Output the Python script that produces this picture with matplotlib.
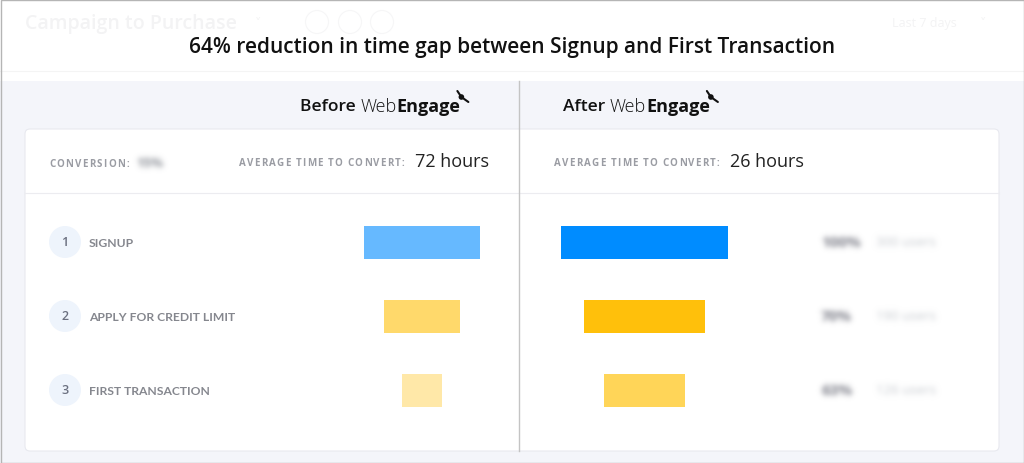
import matplotlib
matplotlib.use("Agg")
import matplotlib.pyplot as plt
import numpy as np
from matplotlib.patches import Rectangle, FancyBboxPatch, Circle

plt.rcParams['font.family'] = ['Open Sans', 'DejaVu Sans']

# data
title = "64% reduction in time gap between Signup and First Transaction"
steps = ["SIGNUP", "APPLY FOR CREDIT LIMIT", "FIRST TRANSACTION"]
before_pct = [100, 66, 34]
after_pct = [100, 72, 48]
before_hours = "72 hours"
after_hours = "26 hours"
conversion = "15%"
after_share = ["100%", "70%", "63%"]
after_users = ["300 users", "190 users", "126 users"]

before_colors = ["#66b9ff", "#ffd96b", "#ffe8a8"]
after_colors = ["#008cff", "#ffc00b", "#ffd558"]


def blur(im, dpi, sigma=2.8):
    # gaussian blur of the alpha, flat colour
    p = int(3 * sigma)
    src = np.pad(im, [(2 * p, 2 * p), (2 * p, 2 * p), (0, 0)], "constant")
    k = np.exp(-0.5 * (np.arange(-p, p + 1) / sigma) ** 2)
    k /= k.sum()
    h2 = src.shape[0] - 2 * p
    w2 = src.shape[1] - 2 * p
    tmp = sum(w * src[:, i:i + w2] for i, w in enumerate(k))
    out = sum(w * tmp[i:i + h2, :] for i, w in enumerate(k))
    mask = im[..., 3] > 0.5
    rgb = im[..., :3][mask].mean(axis=0) if mask.any() else np.array([0.6, 0.6, 0.6])
    out[..., :3] = rgb
    out[..., 3] = np.clip(out[..., 3] * 1.3, 0, 1)
    return out, -p, -p


fig = plt.figure(figsize=(10.24, 4.64), dpi=100)
ax = fig.add_axes([0, 0, 1, 1])
ax.set_xlim(0, 1024)
ax.set_ylim(464, 0)
ax.axis("off")
renderer = fig.canvas.get_renderer()


def spaced(x, y, s, gap, **kw):
    # text with letter spacing, one glyph at a time
    for ch in s:
        t = ax.text(x, y, ch, va="center", **kw)
        bb = t.get_window_extent(renderer)
        x = bb.x1 + gap if ch != " " else x + bb.width + gap
    return x


# backgrounds
ax.add_patch(Rectangle((0, 0), 1024, 464, fc="#f4f5fa", ec="none", zorder=0))
ax.add_patch(Rectangle((0, 0), 1024, 82, fc="white", ec="none", zorder=0))
ax.plot([0, 1024], [72, 72], color="#f4f4f4", lw=0.8, zorder=1)

# faded header of the underlying dashboard
faint = "#f3f3f4"
ax.text(25, 24, "Campaign to Purchase", fontsize=14, color=faint,
        fontweight="semibold", va="center")
ax.text(255, 24, "\u02c5", fontsize=9, color=faint, va="center")
for cx in [317, 350, 382]:
    ax.add_patch(Circle((cx, 23), 11.5, fc="none", ec="#f6f6f7", lw=0.8))
ax.text(892, 24, "Last 7 days", fontsize=9, color=faint, va="center")
ax.text(980, 24, "\u02c5", fontsize=9, color=faint, va="center")

ax.text(512, 47, title, fontsize=15, fontweight="semibold", color="#111111",
        ha="center", va="center")

# card
ax.add_patch(FancyBboxPatch((25, 130), 974, 322, boxstyle="round,pad=0,rounding_size=5",
                            fc="white", ec="#e8e9ef", lw=0.8, zorder=1))
ax.plot([25, 999], [194, 194], color="#ececf0", lw=0.8, zorder=2)
ax.plot([519, 519], [82, 452], color="#c4c4c4", lw=1, zorder=5)


def brand(x, y, word):
    t = ax.text(x, y, word + " ", fontsize=12.5, fontweight="semibold", color="#111111",
                va="center")
    x2 = t.get_window_extent(renderer).x1
    t2 = ax.text(x2, y, "Web", fontsize=13, fontweight="light", color="#111111",
                 va="center")
    x3 = t2.get_window_extent(renderer).x1
    t3 = ax.text(x3, y, "Engage", fontsize=13, fontweight="bold", color="#111111",
                 va="center")
    x4 = t3.get_window_extent(renderer).x1
    # small bird mark of the logo
    ax.add_patch(Circle((x4 + 1, y - 9), 2.8, fc="#111111", ec="none", zorder=4))
    ax.plot([x4 - 3, x4 + 1], [y - 15, y - 9], color="#111111",
            lw=1.5, solid_capstyle="round", zorder=4)
    ax.plot([x4 + 1, x4 + 8], [y - 9, y - 4], color="#111111",
            lw=1.5, solid_capstyle="round", zorder=4)


brand(300, 107, "Before")
brand(563, 107, "After")

lab = dict(fontsize=7, fontweight="bold", color="#9a9ca3")
spaced(49, 165, "CONVERSION:", 1.3, **lab)
t = ax.text(136, 164, conversion, fontsize=9.5, fontweight="bold", color="#a4a6ad",
            va="center")
t.set_agg_filter(blur)
spaced(239, 164, "AVERAGE TIME TO CONVERT:", 1.2, **lab)
ax.text(415, 162, before_hours, fontsize=13, color="#222222", va="center")
spaced(554, 164, "AVERAGE TIME TO CONVERT:", 1.2, **lab)
ax.text(730, 162, after_hours, fontsize=13, color="#222222", va="center")

rows_y = [243, 317, 391]
for i, (name, y) in enumerate(zip(steps, rows_y)):
    ax.add_patch(Circle((65, y), 16, fc="#eef4fc", ec="none", zorder=2))
    ax.text(65, y, str(i + 1), fontsize=9, fontweight="semibold", color="#6b7080",
            ha="center", va="center", zorder=3)
    ax.text(89, y + 1, name, fontsize=8.7, fontweight="bold", color="#85878e",
            va="center", zorder=3, family=["Lato", "DejaVu Sans"])

before_w = np.array(before_pct) / 100 * 116
after_w = np.array(after_pct) / 100 * 167
ax.barh(rows_y, before_w, left=422 - before_w / 2, height=33, color=before_colors, zorder=3)
ax.barh(rows_y, after_w, left=644.5 - after_w / 2, height=33, color=after_colors, zorder=3)

for y, s, u in zip(rows_y, after_share, after_users):
    t1 = ax.text(821, y, s, fontsize=11, fontweight="bold", color="#9a9ca4",
                 va="center", zorder=3)
    t1.set_agg_filter(blur)
    t2 = ax.text(876, y, u, fontsize=9.5, color="#d4d6da", va="center", zorder=3)
    t2.set_agg_filter(blur)

ax.add_patch(Rectangle((0.5, 0.5), 1023, 463, fc="none", ec="#b5b5b5", lw=1, zorder=10))

fig.savefig("out.png", dpi=100)
